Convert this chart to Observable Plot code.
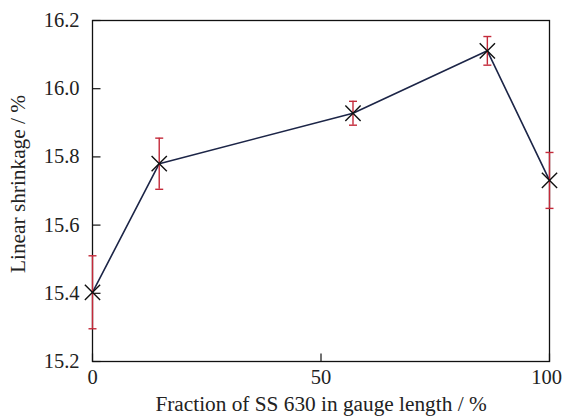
<!DOCTYPE html>
<html>
<head>
<meta charset="utf-8">
<script src="https://cdn.jsdelivr.net/npm/d3@7"></script>
<script src="https://cdn.jsdelivr.net/npm/@observablehq/plot@0.6"></script>
<style>
  html, body { margin: 0; padding: 0; background: #fff; }
  #chart { width: 565px; height: 416px; }
</style>
</head>
<body>
<div id="chart"></div>
<script>
const fractions = [0, 14.6, 57, 86.4, 100];
const shrinkage = [15.403, 15.780, 15.928, 16.111, 15.731];
const errors = [0.107, 0.075, 0.035, 0.042, 0.082];
const yTicks = [15.2, 15.4, 15.6, 15.8, 16.0, 16.2];
const xTicks = [0, 50, 100];
const xLabel = "Fraction of SS 630 in gauge length / %";
const yLabel = "Linear shrinkage / %";

const data = fractions.map((f, i) => ({x: f, y: shrinkage[i], lo: shrinkage[i] - errors[i], hi: shrinkage[i] + errors[i]}));

const capSymbol = {draw(ctx, size) { const r = Math.sqrt(size / Math.PI); ctx.moveTo(-r, 0); ctx.lineTo(r, 0); }};
const yTickSymbol = {draw(ctx, size) { const r = Math.sqrt(size / Math.PI); ctx.moveTo(0, 0); ctx.lineTo(r, 0); }};
const xTickSymbol = {draw(ctx, size) { const r = Math.sqrt(size / Math.PI); ctx.moveTo(0, 0); ctx.lineTo(0, -r); }};

const font = "Liberation Serif";
const red = "#c42a3a";

const chart = Plot.plot({
  width: 565,
  height: 416,
  marginLeft: 92,
  marginRight: 16,
  marginTop: 20,
  marginBottom: 55,
  style: {fontFamily: font, fontSize: "20.5px", color: "#222", background: "#fff"},
  x: {domain: [0, 100], axis: null},
  y: {domain: [15.2, 16.2], axis: null},
  marks: [
    Plot.frame({stroke: "#111", strokeWidth: 1.3}),
    Plot.dot(yTicks, {y: d => d, frameAnchor: "left", symbol: yTickSymbol, r: 8, stroke: "#111", strokeWidth: 1.2, fill: "none"}),
    Plot.dot(xTicks, {x: d => d, frameAnchor: "bottom", symbol: xTickSymbol, r: 8, stroke: "#111", strokeWidth: 1.2, fill: "none"}),
    Plot.text(yTicks, {y: d => d, text: d => d.toFixed(1), frameAnchor: "left", textAnchor: "end", dx: -13, fontSize: 20.5, fontFamily: font, fill: "#222"}),
    Plot.text(xTicks.filter(d => d < 100), {x: d => d, text: d => String(d), frameAnchor: "bottom", lineAnchor: "top", dy: 8, fontSize: 20.5, fontFamily: font, fill: "#222"}),
    Plot.text(xTicks.filter(d => d >= 100), {x: d => d, text: d => String(d), frameAnchor: "bottom", lineAnchor: "top", dy: 8, dx: -3, fontSize: 20.5, fontFamily: font, fill: "#222"}),
    Plot.text([xLabel], {frameAnchor: "bottom", textAnchor: "middle", dy: 43, lineAnchor: "middle", fontSize: 21.3, fontFamily: font, fill: "#222"}),
    Plot.text([yLabel], {frameAnchor: "left", textAnchor: "middle", dx: -74, dy: -7, rotate: -90, lineAnchor: "middle", fontSize: 21.3, fontFamily: font, fill: "#222"}),
    Plot.line(data, {x: "x", y: "y", stroke: "#1c2547", strokeWidth: 1.6}),
    Plot.ruleX(data, {x: "x", y1: "lo", y2: "hi", stroke: red, strokeWidth: 1.4}),
    Plot.dot(data, {x: "x", y: "lo", symbol: capSymbol, r: 4, stroke: red, strokeWidth: 1.4, fill: "none"}),
    Plot.dot(data, {x: "x", y: "hi", symbol: capSymbol, r: 4, stroke: red, strokeWidth: 1.4, fill: "none"}),
    Plot.dot(data, {x: "x", y: "y", symbol: "times", r: 7, stroke: "#111", strokeWidth: 1.4})
  ]
});
document.getElementById("chart").appendChild(chart);
</script>
</body>
</html>
